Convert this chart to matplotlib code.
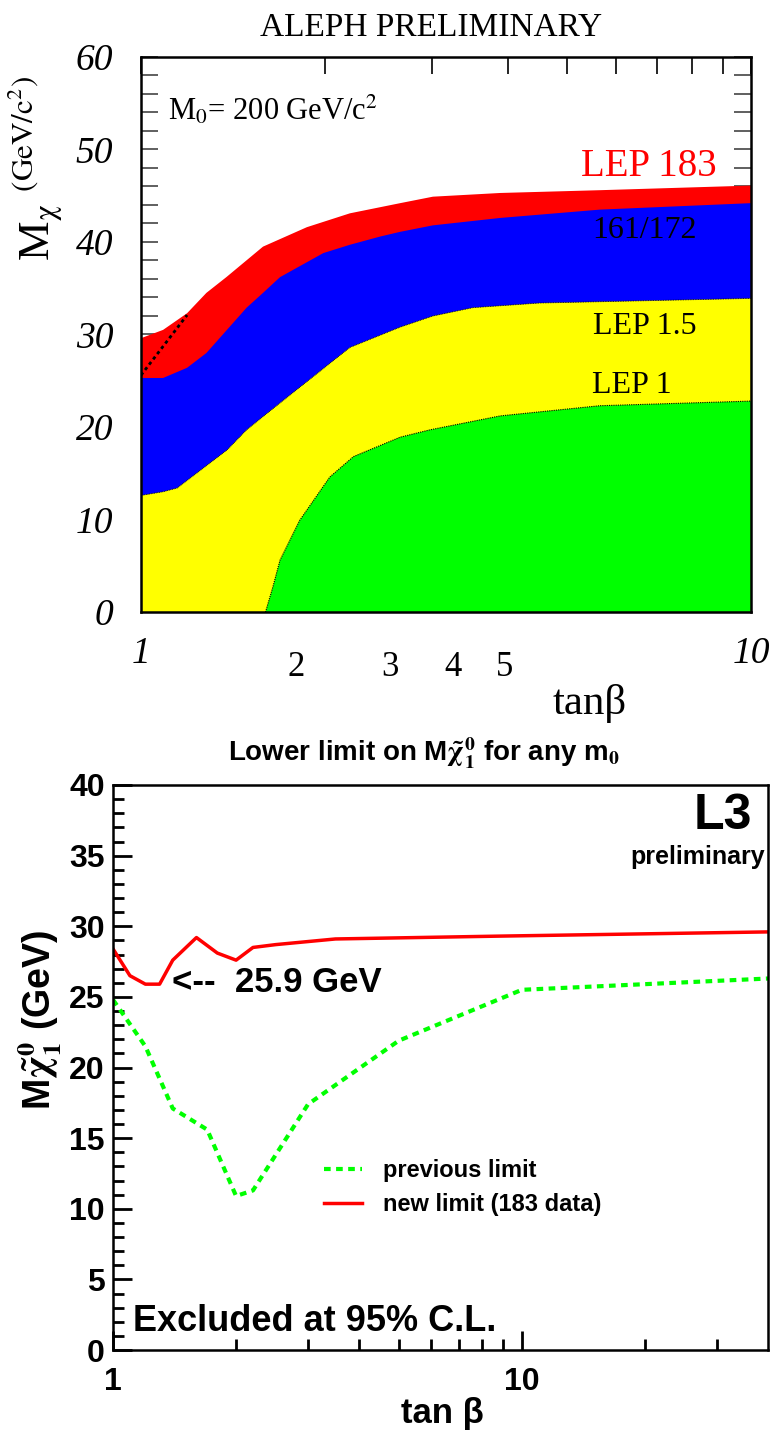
import numpy as np
import matplotlib
matplotlib.use('Agg')
import matplotlib.pyplot as plt
from matplotlib.ticker import FixedLocator, NullFormatter, MultipleLocator
from matplotlib import font_manager

# ---------------- data: ALEPH (upper panel) ----------------
# upper edge of each excluded band, M_chi (GeV/c^2) vs tan(beta)
lep183_tb = [1.0, 1.087, 1.19, 1.28, 1.38, 1.585, 1.87, 2.2, 2.66, 3.01, 3.88, 5.65, 10.0]
lep183_m = [29.6, 30.5, 32.3, 34.5, 36.2, 39.5, 41.6, 43.1, 44.2, 44.9, 45.3, 45.6, 46.1]

lep172_tb = [1.0, 1.087, 1.19, 1.28, 1.49, 1.585, 1.69, 1.99, 2.2, 2.47, 2.66, 3.01, 3.88, 5.65, 10.0]
lep172_m = [25.3, 25.3, 26.4, 28.0, 32.9, 34.5, 36.2, 38.8, 39.7, 40.6, 41.1, 41.8, 42.6, 43.5, 44.2]

lep15_tb = [1.0, 1.087, 1.146, 1.383, 1.49, 1.69, 2.2, 2.66, 3.01, 3.5, 4.5, 10.0]
lep15_m = [12.6, 13.0, 13.4, 17.5, 19.7, 22.6, 28.6, 30.8, 32.0, 32.9, 33.4, 33.9]

lep1_tb = [1.60, 1.645, 1.69, 1.82, 2.04, 2.23, 2.66, 2.98, 3.88, 5.65, 10.0]
lep1_m = [0.0, 2.7, 5.6, 9.9, 14.6, 16.8, 18.9, 19.7, 21.2, 22.3, 22.8]

dotted_tb = [1.0, 1.19]
dotted_m = [25.6, 32.1]

top_xlabels = ['2', '3', '4', '5']

# ---------------- data: L3 (lower panel) ----------------
new_tb = [1.0, 1.10, 1.2, 1.3, 1.4, 1.6, 1.8, 2.0, 2.2, 2.5, 3.5, 8.75, 40.0]
new_m = [28.4, 26.5, 25.9, 25.9, 27.6, 29.2, 28.1, 27.6, 28.5, 28.7, 29.1, 29.3, 29.6]

prev_tb = [1.0, 1.2, 1.4, 1.7, 2.0, 2.2, 3.0, 5.0, 10.0, 40.0]
prev_m = [24.8, 21.5, 17.1, 15.6, 10.9, 11.3, 17.4, 21.9, 25.5, 26.3]

names = {f.name for f in font_manager.fontManager.ttflist}
narrow = 'Liberation Sans Narrow' if 'Liberation Sans Narrow' in names else 'Liberation Sans'
serif = 'Liberation Serif'
plt.rcParams['mathtext.fontset'] = 'stix'

fig = plt.figure(figsize=(7.73, 14.38), dpi=100)

# ================= upper panel =================
ax1 = fig.add_axes([141 / 773, 1 - 612 / 1438, 610 / 773, 555 / 1438])
ax1.set_xscale('log')
ax1.set_xlim(1, 10)
ax1.set_ylim(0, 60)

bands = [(lep183_tb, lep183_m, '#ff0000'),
         (lep172_tb, lep172_m, '#0000ff'),
         (lep15_tb, lep15_m, '#ffff00'),
         (lep1_tb, lep1_m, '#00ff00')]
for tb, m, col in bands:
    xs = list(tb) + [10.0, tb[0]]
    ys = list(m) + [0.0, 0.0]
    ax1.fill(xs, ys, color=col, lw=0, zorder=2)
ax1.plot(lep15_tb, lep15_m, color='k', lw=0.6, ls=(0, (1, 1)), zorder=3)
ax1.plot(lep1_tb, lep1_m, color='k', lw=0.8, ls=(0, (1, 1)), zorder=3)
ax1.plot(dotted_tb, dotted_m, color='k', lw=2, ls=(0, (1.2, 1.2)), zorder=3)

for s in ax1.spines.values():
    s.set_linewidth(1.8)
ax1.xaxis.set_major_locator(FixedLocator([1, 10]))
ax1.xaxis.set_minor_locator(FixedLocator([2, 3, 4, 5, 6, 7, 8, 9]))
ax1.xaxis.set_major_formatter(NullFormatter())
ax1.xaxis.set_minor_formatter(NullFormatter())
ax1.tick_params(axis='x', which='both', direction='in', top=True, bottom=False,
                length=12, width=1.2)
ax1.yaxis.set_major_locator(MultipleLocator(10))
ax1.yaxis.set_minor_locator(MultipleLocator(2))
ax1.tick_params(axis='y', which='both', direction='in', left=True, right=True,
                length=12, width=1.2, color='#444444')
ax1.tick_params(axis='y', which='major', pad=20)
for lab in ax1.get_yticklabels():
    lab.set_fontfamily(serif)
    lab.set_fontstyle('italic')
    lab.set_fontsize(27)

# x labels of the ALEPH plot sit off their ticks, as in the original
for lbl, fx in [('1', 0.0), ('10', 1.0)]:
    ax1.text(fx, -0.075, lbl, transform=ax1.transAxes, ha='center', va='center',
             fontfamily=serif, fontstyle='italic', fontsize=27)
for lbl, px in zip(top_xlabels, [296, 390, 453, 505]):
    ax1.text((px - 141) / 610, -0.1, lbl, transform=ax1.transAxes,
             ha='center', va='center', fontfamily=serif, fontsize=25)
ax1.text((590 - 141) / 610, -0.165, 'tanβ', transform=ax1.transAxes,
         ha='center', va='center', fontfamily=serif, fontsize=31)

fig.text(431 / 773, 1 - 28 / 1438, 'ALEPH PRELIMINARY', ha='center', va='center',
         fontfamily=serif, fontsize=24)
ax1.text(0.045, 0.905, r'M$_0$= 200 GeV/c$^2$', transform=ax1.transAxes,
         ha='left', va='center', fontfamily=serif, fontsize=22)
ax1.text(0.833, 0.802, 'LEP 183', transform=ax1.transAxes, ha='center', va='center',
         fontfamily=serif, fontsize=28, color='#ff0000')
ax1.text(0.826, 0.688, '161/172', transform=ax1.transAxes, ha='center', va='center',
         fontfamily=serif, fontsize=23)
ax1.text(0.826, 0.514, 'LEP 1.5', transform=ax1.transAxes, ha='center', va='center',
         fontfamily=serif, fontsize=23)
ax1.text(0.805, 0.409, 'LEP 1', transform=ax1.transAxes, ha='center', va='center',
         fontfamily=serif, fontsize=23)
fig.text(36 / 773, 1 - 168 / 1438, r'M$_{\mathrm{\chi}}$ $^{\rm (GeV/c^2)}$', rotation=90,
         ha='center', va='center', fontfamily=serif, fontsize=32)

# ================= lower panel =================
ax2 = fig.add_axes([113 / 773, 1 - 1350 / 1438, 655 / 773, 565 / 1438])
ax2.set_xscale('log')
ax2.set_xlim(1, 40)
ax2.set_ylim(0, 40)

ax2.plot(prev_tb, prev_m, color='#00ff00', lw=3, ls=(0, (1.6, 1.3)), label='previous limit')
ax2.plot(new_tb, new_m, color='#ff0000', lw=2.5, label='new limit (183 data)')

for s in ax2.spines.values():
    s.set_linewidth(1.8)
ax2.xaxis.set_major_locator(FixedLocator([1, 10]))
ax2.xaxis.set_minor_locator(FixedLocator([2, 3, 4, 5, 6, 7, 8, 9, 20, 30]))
ax2.xaxis.set_minor_formatter(NullFormatter())
ax2.set_xticklabels(['1', '10'])
ax2.yaxis.set_major_locator(MultipleLocator(5))
ax2.yaxis.set_minor_locator(MultipleLocator(1))
ax2.tick_params(which='major', direction='in', length=14, width=2)
ax2.tick_params(which='minor', direction='in', length=8, width=2)
ax2.tick_params(axis='x', which='major', pad=12)
ax2.tick_params(axis='y', which='major', pad=6)
for lab in ax2.get_xticklabels() + ax2.get_yticklabels():
    lab.set_fontfamily(narrow)
    lab.set_fontweight('bold')
    lab.set_fontsize(23)

ax2.legend(loc='upper left', bbox_to_anchor=(0.29, 0.375), frameon=False,
           handlelength=1.6, handletextpad=0.9, labelspacing=0.45,
           prop={'family': narrow, 'weight': 'bold', 'size': 17})

ax2.text(0.975, 0.985, 'L3', transform=ax2.transAxes, ha='right', va='top',
         fontfamily='Liberation Sans', fontweight='bold', fontsize=36)
ax2.text(0.995, 0.872, 'preliminary', transform=ax2.transAxes, ha='right', va='center',
         fontfamily=narrow, fontweight='bold', fontsize=18)
ax2.text((172 - 113) / 655, (1350 - 982) / 565, '<--  25.9 GeV', transform=ax2.transAxes,
         ha='left', va='center', fontfamily='Liberation Sans', fontweight='bold', fontsize=25)
ax2.text(0.03, 0.05, 'Excluded at 95% C.L.', transform=ax2.transAxes, ha='left',
         va='center', fontfamily=narrow, fontweight='bold', fontsize=26)

fig.text(424 / 773, 1 - 753 / 1438, r'Lower limit on M$\mathbf{\tilde{\chi}^0_1}$ for any m$_\mathbf{0}$',
         ha='center', va='center', fontfamily=narrow, fontweight='bold', fontsize=20)
fig.text(40 / 773, 1 - 1020 / 1438, r'M$\mathbf{\tilde{\chi}^0_1}$ (GeV)', rotation=90,
         ha='center', va='center', fontfamily=narrow, fontweight='bold', fontsize=27)
fig.text(442 / 773, 1 - 1413 / 1438, r'tan β', ha='center', va='center',
         fontfamily=narrow, fontweight='bold', fontsize=25)

fig.savefig('out.png', dpi=100)
